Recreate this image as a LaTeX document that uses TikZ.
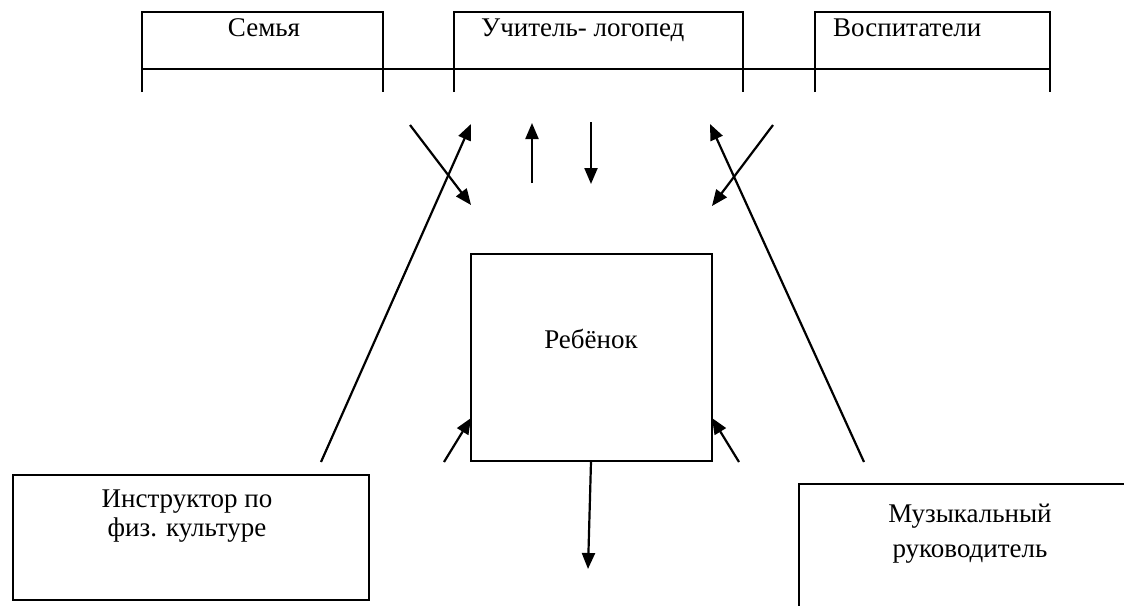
\documentclass[tikz,border=0pt]{standalone}
\usepackage{fontspec}
\setmainfont{Liberation Serif}
\usetikzlibrary{arrows.meta}

\begin{document}
\begin{tikzpicture}
  [x=1pt,y=-1pt,
   lbl/.style={font=\fontsize{27}{31}\selectfont, inner sep=0pt},
   box/.style={draw, line width=1.2pt, inner sep=0pt},
   arr/.style={line width=2.2pt, -{Triangle[length=16pt,width=13pt]}}]
  \useasboundingbox (0,0) rectangle (1124,605);
  % table row at the top
  \draw[line width=1.2pt]
    (142,92) -- (142,12) -- (383,12) -- (383,92)
    (454,92) -- (454,12) -- (743,12) -- (743,92)
    (815,92) -- (815,12) -- (1050,12) -- (1050,92)
    (142,69) -- (1050,69);
  \node[lbl, anchor=base] (semya) at (264,36) {Семья};
  \node[lbl, anchor=base west] (logoped) at (481,36) {Учитель- логопед};
  \node[lbl, anchor=base west] (vospit) at (833,36) {Воспитатели};
  % boxes
  \node[box, minimum width=241pt, minimum height=207pt] (rebenok) at (591.5,357.5) {};
  \node[lbl, anchor=base] (rebenoklbl) at (591,348) {Ребёнок};
  \node[box, minimum width=356pt, minimum height=125pt] (instr) at (191,537.5) {};
  \node[lbl, anchor=base] (instrA) at (187,507) {Инструктор по};
  \node[lbl, anchor=base] (instrB) at (187,536) {физ. культуре};
  \node[box, minimum width=341pt, minimum height=136pt] (muz) at (969.5,552) {};
  \node[lbl, anchor=base] (muzA) at (970,522) {Музыкальный};
  \node[lbl, anchor=base] (muzB) at (970,557) {руководитель};
  % arrow ends
  \coordinate (semyaout) at (410,125);  \coordinate (semyain) at (471,205);
  \coordinate (instrout) at (321,462);  \coordinate (instrin) at (471,124);
  \coordinate (upfrom) at (532,183);    \coordinate (upto) at (532,123);
  \coordinate (downfrom) at (591,122);  \coordinate (downto) at (591,184);
  \coordinate (muzout) at (864,462);    \coordinate (muzin) at (710,124);
  \coordinate (vospout) at (773,125);   \coordinate (vospin) at (712,206);
  \coordinate (leftfrom) at (444,462);  \coordinate (leftto) at (471,418);
  \coordinate (rightfrom) at (739,462); \coordinate (rightto) at (712,418);
  \coordinate (resultto) at (588,569);
  \draw[arr] (semyaout) -- (semyain);
  \draw[arr] (instrout) -- (instrin);
  \draw[arr] (upfrom) -- (upto);
  \draw[arr] (downfrom) -- (downto);
  \draw[arr] (muzout) -- (muzin);
  \draw[arr] (vospout) -- (vospin);
  \draw[arr] (leftfrom) -- (leftto);
  \draw[arr] (rightfrom) -- (rightto);
  \draw[arr] (rebenok.south) ++(-0.5,0) -- (resultto);
\end{tikzpicture}
\end{document}
